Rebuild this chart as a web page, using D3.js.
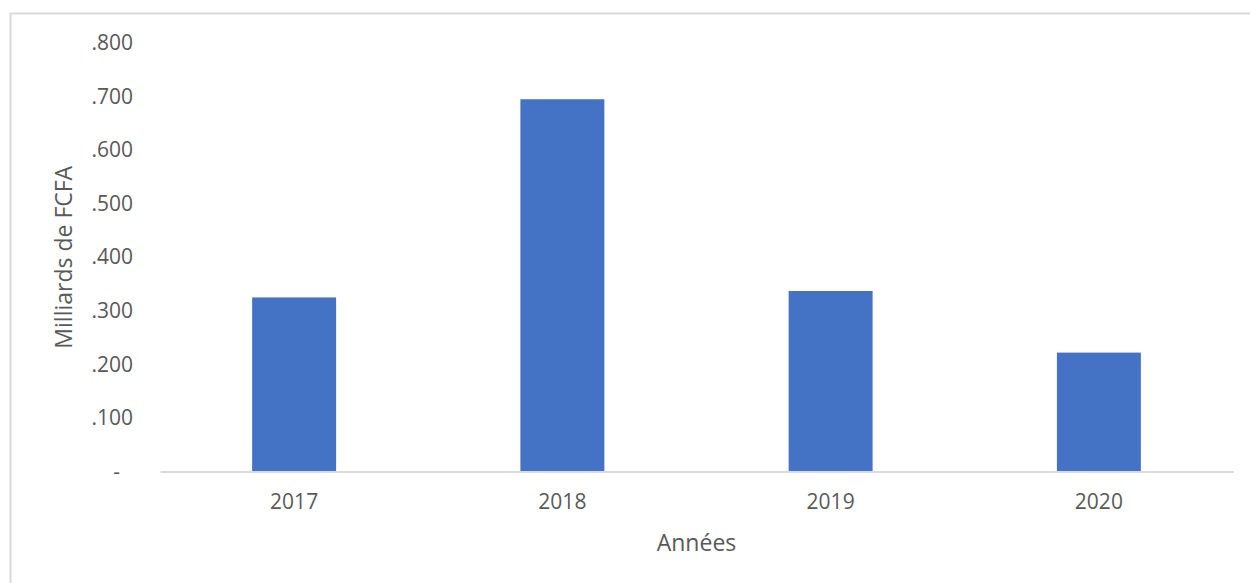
<!DOCTYPE html>
<html>
<head>
<meta charset="utf-8">
<script src="https://cdn.jsdelivr.net/npm/d3@7"></script>
<style>
  body { margin: 0; background: #fff; }
  svg { display: block; font-family: "Open Sans", sans-serif; }
</style>
</head>
<body>
<script>
// values (milliards de FCFA)
const years = ["2017", "2018", "2019", "2020"];
const amounts = [0.325, 0.695, 0.337, 0.222];
const yTicks = [0, 0.1, 0.2, 0.3, 0.4, 0.5, 0.6, 0.7, 0.8];
const yTickLabels = ["-", ".100", ".200", ".300", ".400", ".500", ".600", ".700", ".800"];

const width = 1250;
const height = 583;
const margin = { top: 43, bottom: 111.5, left: 160, right: 17 };
const font = "'Open Sans', sans-serif";

const svg = d3.select("body")
    .append("svg")
    .attr("width", width)
    .attr("height", height);

// chart frame (right and bottom run off the picture)
svg.append("rect")
    .attr("x", 10.5)
    .attr("y", 13.5)
    .attr("width", width)
    .attr("height", height)
    .attr("fill", "none")
    .attr("stroke", "#d9d9d9")
    .attr("stroke-width", 2);

const x = d3.scaleBand()
    .domain(years)
    .range([margin.left, width - margin.right])
    .paddingInner(0.687)
    .paddingOuter(0.3435);

const y = d3.scaleLinear()
    .domain([0, 0.8])
    .range([height - margin.bottom, margin.top]);

// y labels, no axis line
const yaxis = d3.axisLeft(y)
    .tickValues(yTicks)
    .tickSize(0)
    .tickFormat((d, i) => yTickLabels[i]);

svg.append("g")
    .attr("transform", `translate(${margin.left - 24},0)`)
    .call(yaxis)
    .attr("font-family", font)
    .attr("font-size", 21)
    .call(g => g.select(".domain").remove())
    .call(g => g.selectAll("text")
        .attr("fill", "#595959")
        .attr("dx", d => d === 0 ? -13 : 0));

// bars
svg.append("g")
    .selectAll("rect")
    .data(amounts)
    .join("rect")
    .attr("x", (d, i) => x(years[i]))
    .attr("y", d => y(d))
    .attr("width", x.bandwidth())
    .attr("height", d => y(0) - y(d))
    .attr("fill", "#4472c4");

// x axis
const xaxis = d3.axisBottom(x).tickSize(0).tickPadding(23);
svg.append("g")
    .attr("transform", `translate(0,${y(0)})`)
    .call(xaxis)
    .attr("font-family", font)
    .attr("font-size", 21)
    .call(g => g.select(".domain").attr("stroke", "#d9d9d9").attr("stroke-width", 2))
    .call(g => g.selectAll("text").attr("fill", "#595959"));

// axis titles
svg.append("text")
    .attr("x", (margin.left + width - margin.right) / 2)
    .attr("y", 551)
    .attr("text-anchor", "middle")
    .attr("fill", "#595959")
    .style("font-size", "23px")
    .text("Années");

svg.append("text")
    .attr("transform", `translate(72,${(y(0) + y(0.8)) / 2}) rotate(-90)`)
    .attr("text-anchor", "middle")
    .attr("fill", "#595959")
    .style("font-size", "23px")
    .text("Milliards de FCFA");
</script>
</body>
</html>
